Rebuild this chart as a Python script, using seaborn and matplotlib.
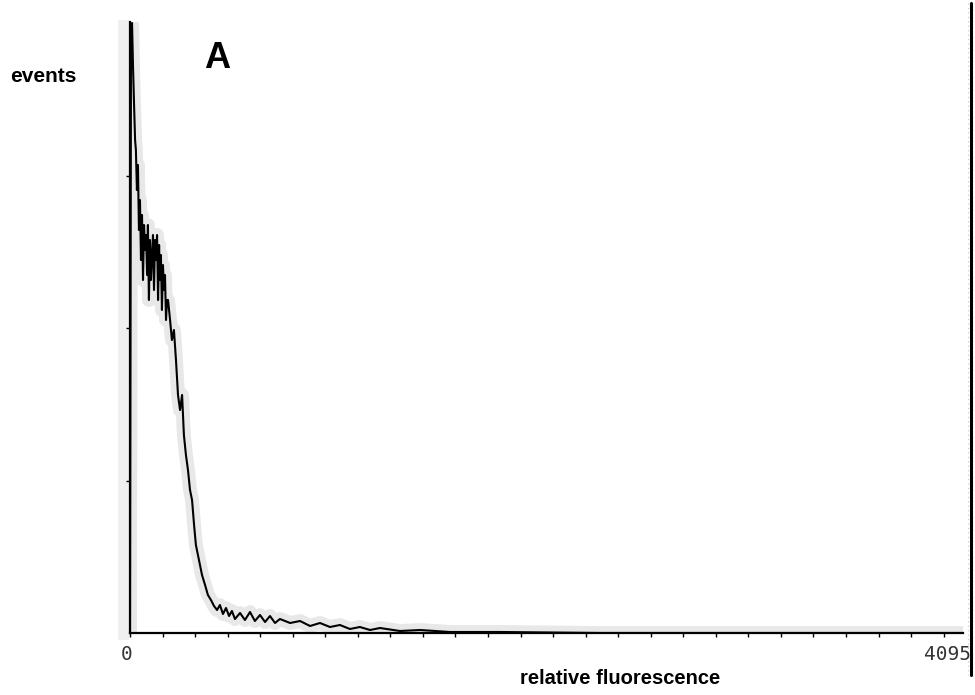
import numpy as np
import pandas as pd
import matplotlib
matplotlib.use("Agg")
import matplotlib.pyplot as plt
import seaborn as sns
from matplotlib.lines import Line2D
from matplotlib.patches import Rectangle

# ---- data ----
channel = [0, 5, 10, 15, 20, 25, 29, 34, 39, 44, 49, 54, 59, 64, 69, 74, 79, 84, 88, 93,
           98, 103, 108, 113, 118, 123, 128, 133, 138, 143, 147, 152, 157, 162, 167, 172,
           177, 182, 187, 197, 206, 216, 226, 236, 246, 256, 265, 275, 285, 295, 305, 315,
           324, 334, 344, 354, 369, 383, 398, 413, 428, 442, 457, 472, 487, 501, 516, 541,
           565, 590, 614, 639, 664, 688, 713, 737, 787, 836, 885, 934, 983, 1032, 1081,
           1130, 1180, 1229, 1327, 1426, 1573, 1819, 2310, 4095]
events = [0, 603, 610, 565, 528, 493, 483, 443, 468, 403, 433, 373, 418, 353, 408, 383,
          398, 358, 408, 333, 393, 353, 378, 398, 343, 393, 373, 398, 333, 388, 353, 378,
          323, 368, 343, 358, 313, 333, 333, 313, 293, 303, 273, 238, 223, 238, 198, 178,
          163, 143, 133, 108, 88, 78, 68, 58, 48, 38, 33, 27, 23, 28, 19, 25, 17, 22, 14,
          20, 13, 21, 12, 18, 11, 17, 10, 14, 10, 12, 7, 10, 6, 8, 4, 6, 3, 5, 2, 3, 1, 1,
          0, 0]
x_tick_labels = ["0", "4095"]

df = pd.DataFrame({"channel": channel, "events": events})

sns.set_style("white")
plt.rcParams["font.family"] = ["Liberation Sans", "DejaVu Sans"]

fig = plt.figure(figsize=(9.75, 6.95), dpi=100)
L, R, B, T = 130 / 975, 963 / 975, (695 - 633) / 695, (695 - 22) / 695
ax = fig.add_axes([L, B, R - L, T - B])

# grey stipple halo
sns.lineplot(data=df, x="channel", y="events", ax=ax, estimator=None, sort=False,
             color="#e8e8e8", linewidth=10, zorder=1)
sns.lineplot(data=df, x="channel", y="events", ax=ax, estimator=None, sort=False,
             color="black", linewidth=1.5, zorder=3)

ax.set_xlim(0, 4095)
ax.set_ylim(0, 611)
ax.set_xlabel("")
ax.set_ylabel("")

ax.set_xticks(np.arange(0, 4096, 160))
ax.set_xticklabels([])
ax.set_yticks([152.5, 305, 457.5])
ax.set_yticklabels([])
ax.tick_params(axis="x", direction="out", length=3, width=1, color="black", bottom=True)
ax.tick_params(axis="y", direction="out", length=3, width=1, color="black", left=True)

for s in ["top", "right"]:
    ax.spines[s].set_visible(False)
for s in ["left", "bottom"]:
    ax.spines[s].set_color("black")
    ax.spines[s].set_linewidth(1.6)
ax.patch.set_alpha(0)

# grey stipple band along the left axis
fig.add_artist(Rectangle((118 / 975, (695 - 640) / 695), 11 / 975, 620 / 695,
                         transform=fig.transFigure, facecolor="#f0f0f0",
                         edgecolor="none", zorder=0))
# right border line
fig.add_artist(Line2D([971 / 975, 971 / 975], [(695 - 3) / 695, (695 - 675) / 695],
                      transform=fig.transFigure, color="black", linewidth=2.2))
fig.add_artist(Line2D([968 / 975, 968 / 975], [(695 - 3) / 695, (695 - 675) / 695],
                      transform=fig.transFigure, color="#c8c8c8", linewidth=0.8,
                      linestyle=(0, (1, 3))))

# tick labels 0 / 4095
fig.text(127 / 975, 1 - 654 / 695, x_tick_labels[0], ha="center", va="center",
         fontsize=14, color="#333333", family="DejaVu Sans Mono")
fig.text(971 / 975, 1 - 654 / 695, x_tick_labels[1], ha="right", va="center",
         fontsize=14, color="#333333", family="DejaVu Sans Mono")

# annotations
fig.text(10 / 975, 1 - 77 / 695, "events", ha="left", va="center",
         fontsize=15, fontweight="bold", color="black")
fig.text(217 / 975, 1 - 58 / 695, "A", ha="center", va="center",
         fontsize=26, fontweight="bold", color="black")
fig.text(620 / 975, 1 - 678 / 695, "relative fluorescence", ha="center", va="center",
         fontsize=14.5, fontweight="bold", color="black")

fig.savefig("out.png", dpi=100, facecolor="white")
